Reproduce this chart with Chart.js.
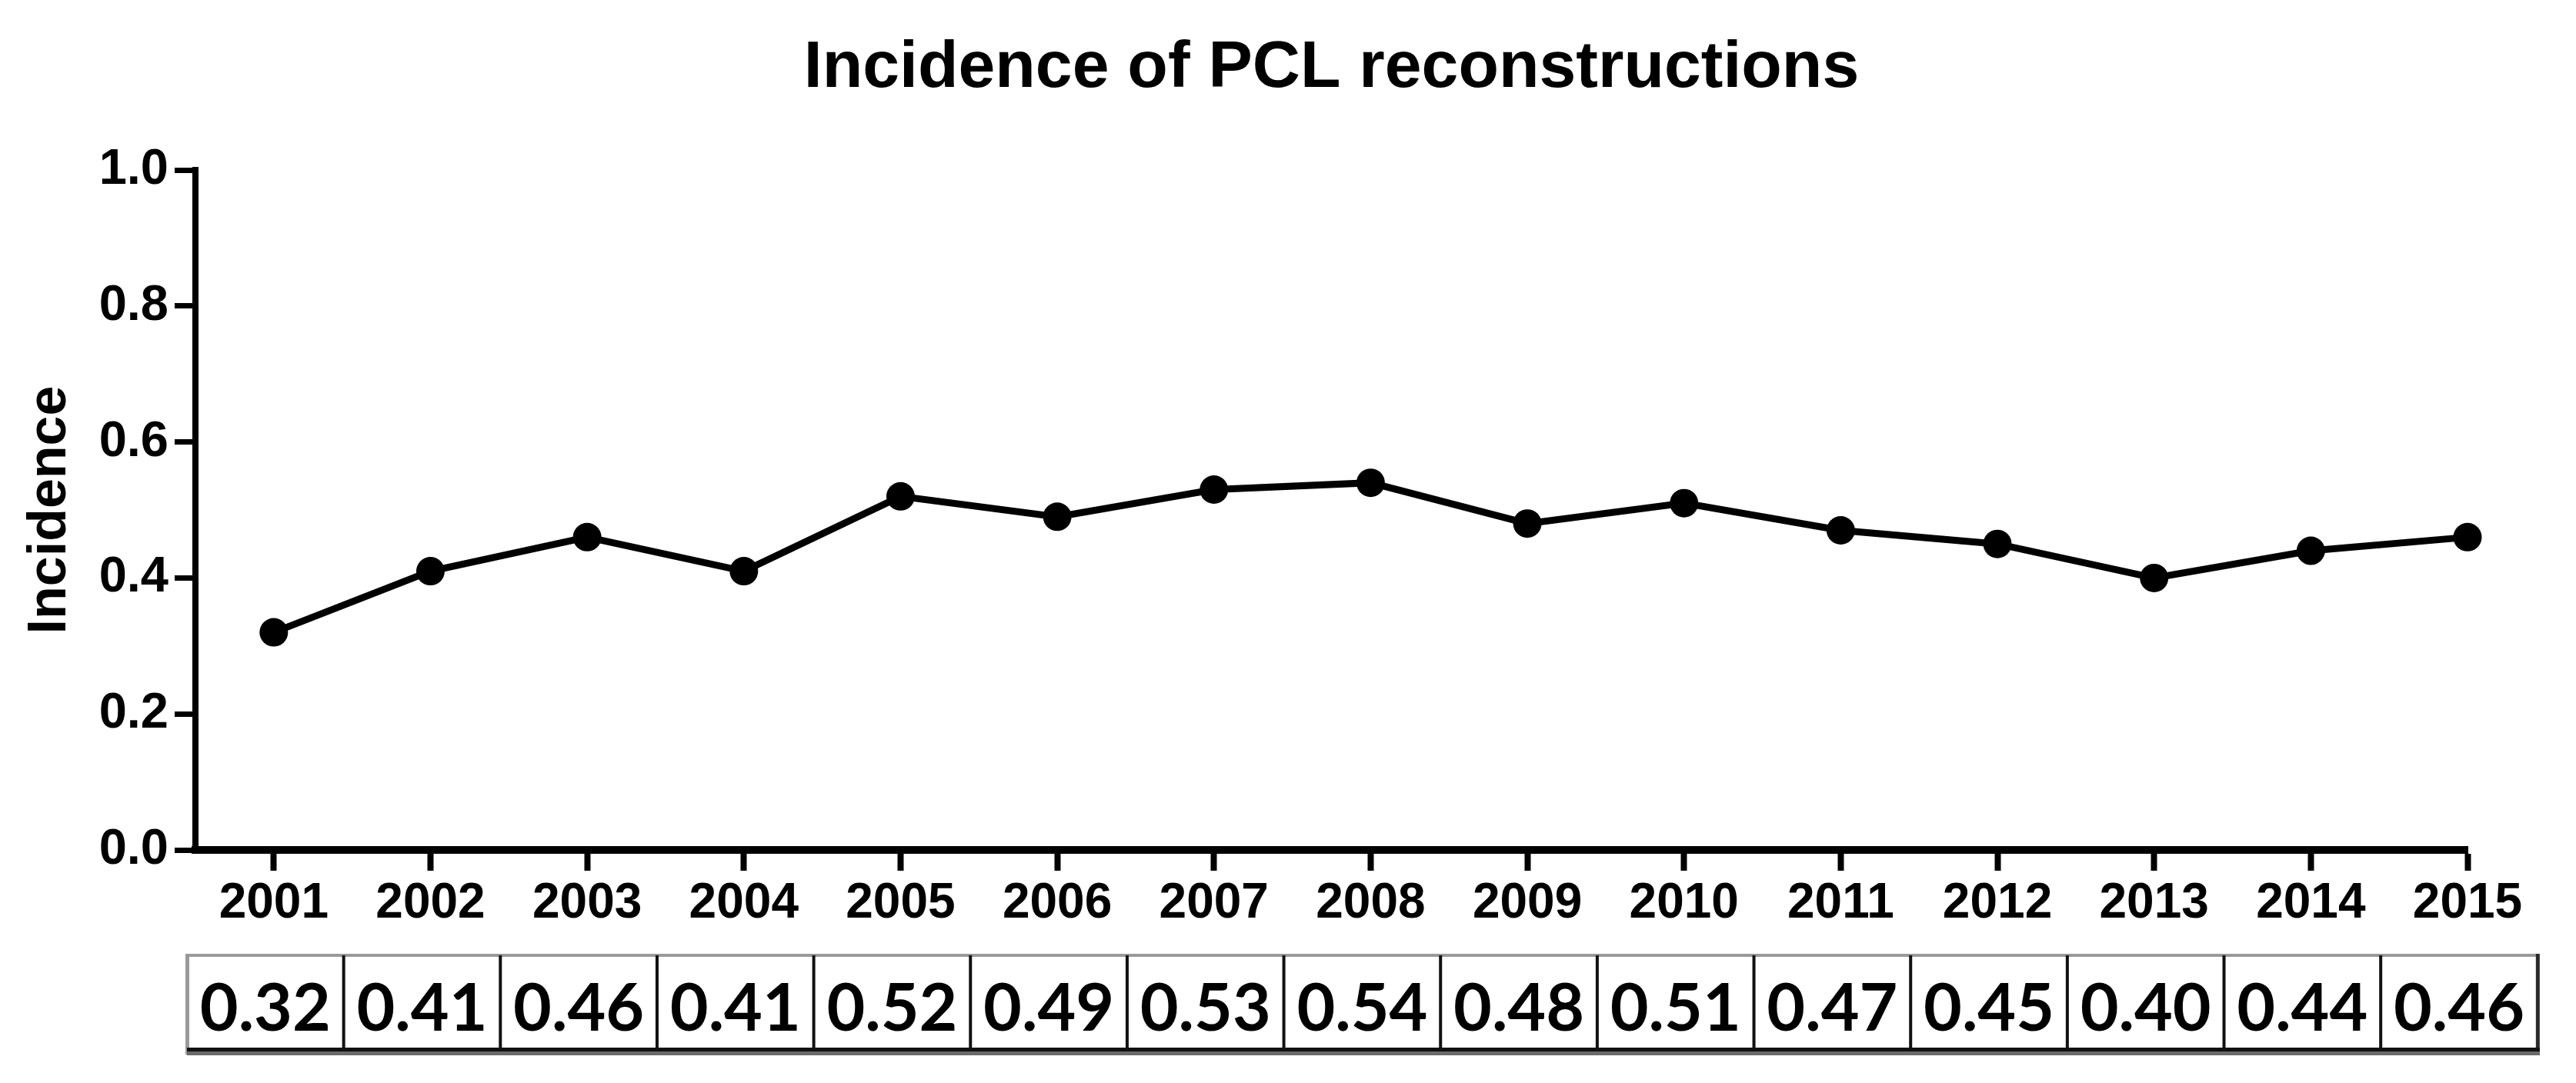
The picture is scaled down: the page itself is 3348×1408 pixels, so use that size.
<!DOCTYPE html>
<html>
<head>
<meta charset="utf-8">
<script src="https://cdn.jsdelivr.net/npm/chart.js@4.4.1/dist/chart.umd.min.js"></script>
<style>
  html, body { margin: 0; padding: 0; background: #ffffff; }
  #wrap { width: 3348px; height: 1408px; }
</style>
</head>
<body>
<div id="wrap"><canvas id="c" width="3348" height="1408"></canvas></div>
<script>
// ---- data ----
const chartTitle = "Incidence of PCL reconstructions";
const yAxisTitle = "Incidence";
const years = [2001, 2002, 2003, 2004, 2005, 2006, 2007, 2008, 2009, 2010, 2011, 2012, 2013, 2014, 2015];
const incidence = [0.32, 0.41, 0.46, 0.41, 0.52, 0.49, 0.53, 0.54, 0.48, 0.51, 0.47, 0.45, 0.40, 0.44, 0.46];
const yTicks = [0.0, 0.2, 0.4, 0.6, 0.8, 1.0];

const points = years.map((yr, i) => ({ x: yr, y: incidence[i] }));

// table under the x axis, drawn from the x scale
const tablePlugin = {
  id: 'valueTable',
  afterDraw(chart) {
    const ctx = chart.ctx;
    const xs = chart.scales.x;
    const shift = -11;
    const top = 1242, bottom = 1365;
    const bounds = [];
    for (let i = 0; i <= years.length; i++) {
      bounds.push(xs.getPixelForValue(years[0] - 0.5 + i) + shift);
    }
    const L = bounds[0], R = bounds[bounds.length - 1];
    ctx.save();
    ctx.fillStyle = '#9a9a9a';
    ctx.fillRect(L, top - 2, R - L, 4);
    ctx.fillRect(L - 2, top - 2, 5, bottom - top + 8);
    ctx.fillStyle = '#111111';
    for (let i = 1; i < bounds.length - 1; i++) {
      ctx.fillRect(bounds[i] - 2, top, 4, bottom - top);
    }
    ctx.fillStyle = '#2a2a2a';
    ctx.fillRect(R - 2, top - 2, 5, bottom - top + 8);
    ctx.fillStyle = '#111111';
    ctx.fillRect(L, bottom - 3, R - L + 3, 5);
    ctx.fillStyle = '#6a6a6a';
    ctx.fillRect(L, bottom + 2, R - L + 3, 5);
    ctx.fillStyle = '#000000';
    ctx.font = 'bold 86px Lato, "Open Sans", "Liberation Sans", sans-serif';
    ctx.textAlign = 'center';
    ctx.textBaseline = 'alphabetic';
    for (let i = 0; i < years.length; i++) {
      const cx = (bounds[i] + bounds[i + 1]) / 2;
      ctx.fillText(incidence[i].toFixed(2), cx, 1340);
    }
    ctx.restore();
  }
};

const ctx = document.getElementById('c').getContext('2d');
new Chart(ctx, {
  type: 'line',
  data: {
    datasets: [{
      data: points,
      clip: false,
      borderColor: '#000000',
      borderWidth: 9,
      backgroundColor: '#000000',
      pointBackgroundColor: '#000000',
      pointBorderColor: '#000000',
      pointBorderWidth: 0,
      pointRadius: 18.5,
      tension: 0,
      fill: false
    }]
  },
  options: {
    responsive: false,
    animation: false,
    devicePixelRatio: 1,
    layout: { padding: { left: 0, right: 141, top: 0, bottom: 0 } },
    plugins: {
      legend: { display: false },
      tooltip: { enabled: false },
      title: {
        display: true,
        text: chartTitle,
        fullSize: false,
        color: '#000000',
        font: { family: '"Liberation Sans", Arial, Helvetica, sans-serif', size: 86, weight: 'bold', lineHeight: 1.2 },
        padding: { top: 38, bottom: 79.8 }
      }
    },
    scales: {
      x: {
        type: 'linear',
        position: 'bottom',
        min: years[0] - 0.5,
        max: years[years.length - 1],
        afterBuildTicks(scale) { scale.ticks = years.map(v => ({ value: v })); },
        afterFit(scale) { scale.height = 303; },
        grid: { display: true, drawOnChartArea: false, drawTicks: true, tickLength: 27, tickWidth: 8, tickColor: '#000000' },
        border: { display: true, width: 10, color: '#000000' },
        ticks: {
          autoSkip: false,
          maxRotation: 0,
          padding: 5,
          color: '#000000',
          font: { family: '"Liberation Sans", Arial, sans-serif', size: 64, weight: 'bold' },
          callback: (v) => String(v)
        }
      },
      y: {
        type: 'linear',
        min: 0,
        max: 1,
        afterBuildTicks(scale) { scale.ticks = yTicks.map(v => ({ value: v })); },
        afterFit(scale) { scale.width = 254; },
        grid: { display: true, drawOnChartArea: false, drawTicks: true, tickLength: 27, tickWidth: 7, tickColor: '#000000' },
        border: { display: true, width: 8, color: '#000000' },
        ticks: {
          padding: 8,
          color: '#000000',
          font: { family: '"Liberation Sans", Arial, sans-serif', size: 65, weight: 'bold' },
          callback: (v) => Number(v).toFixed(1)
        },
        title: {
          display: true,
          text: yAxisTitle,
          color: '#000000',
          font: { family: '"Liberation Sans", Arial, sans-serif', size: 70, weight: 'bold', lineHeight: 1.2 },
          padding: { top: 24, bottom: 0 }
        }
      }
    }
  },
  plugins: [tablePlugin]
});
</script>
</body>
</html>
